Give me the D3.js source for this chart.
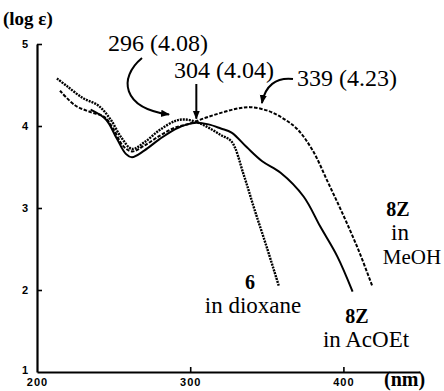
<!DOCTYPE html>
<html>
<head>
<meta charset="utf-8">
<script src="https://cdn.jsdelivr.net/npm/d3@7"></script>
<style>
  body { margin: 0; background: #fff; }
  svg { display: block; }
</style>
</head>
<body>
<svg id="chart" width="444" height="391"></svg>
<script>
'use strict';

// Spectra: [wavelength nm, log eps]
const dioxane6 = [
  [213, 4.58], [220, 4.48], [230, 4.34], [240, 4.25], [248, 4.08], [255, 3.86],
  [262, 3.72], [270, 3.80], [280, 3.95], [290, 4.06], [296, 4.08], [304, 4.05],
  [312, 3.98], [320, 3.89], [327, 3.81], [335, 3.40], [342, 2.98], [350, 2.52], [358, 2.04]
];
const meoh8Z = [
  [215, 4.43], [225, 4.25], [235, 4.17], [244, 4.11], [250, 3.96], [256, 3.76],
  [262, 3.69], [270, 3.76], [280, 3.88], [290, 3.98], [300, 4.03], [310, 4.10],
  [320, 4.16], [330, 4.21], [339, 4.23], [350, 4.19], [360, 4.10], [370, 3.96],
  [380, 3.70], [390, 3.31], [400, 2.91], [410, 2.48], [419, 2.04]
];
const acoet8Z = [
  [235, 4.20], [245, 4.08], [252, 3.85], [258, 3.66], [262, 3.62], [270, 3.70],
  [280, 3.84], [290, 3.96], [298, 4.02], [304, 4.04], [312, 4.02], [320, 3.97],
  [327, 3.92], [337, 3.74], [347, 3.57], [359, 3.43], [374, 3.14], [385, 2.77],
  [396, 2.41], [406, 1.98]
];

const peaks = [
  { nm: 296, v: 4.08 },
  { nm: 304, v: 4.04 },
  { nm: 339, v: 4.23 }
];

const yTicks = [1, 2, 3, 4, 5];
const xTicks = [200, 300, 400];

const SERIF = '"Liberation Serif", "DejaVu Serif", serif';
const SANS = '"Liberation Sans", "DejaVu Sans", sans-serif';

const svg = d3.select('#chart');

const x = d3.scaleLinear().domain([200, 450]).range([37, 420]);
const y = d3.scaleLinear().domain([1, 5]).range([372, 44]);

// Axes, ticks point inward
const yAxis = d3.axisLeft(y)
  .tickValues(yTicks)
  .tickFormat(d3.format('d'))
  .tickSizeInner(-5)
  .tickSizeOuter(0)
  .tickPadding(8);
const gy = svg.append('g').attr('transform', `translate(${x(200)},0)`).call(yAxis);

const xAxis = d3.axisBottom(x)
  .tickValues(xTicks)
  .tickFormat(d3.format('d'))
  .tickSizeInner(-5)
  .tickSizeOuter(0)
  .tickPadding(6);
const gx = svg.append('g').attr('transform', `translate(0,${y(1)})`).call(xAxis);

[gx, gy].forEach(g => {
  g.select('.domain').attr('stroke', '#000').attr('stroke-width', 2.2);
  g.selectAll('.tick line').attr('stroke', '#000').attr('stroke-width', 1.6);
  g.selectAll('.tick text')
    .attr('fill', '#000')
    .style('font-family', SANS)
    .style('font-weight', 'bold')
    .style('font-size', '11px')
    .style('letter-spacing', '1px');
});
// no tick mark on the corner
gx.selectAll('.tick').filter(d => d === 200).select('line').remove();
gy.selectAll('.tick').filter(d => d === 1).select('line').remove();
gy.selectAll('.tick').filter(d => d === 1).select('text').attr('dy', '0.1em');

svg.append('text')
  .attr('x', 3).attr('y', 25)
  .style('font-family', SERIF)
  .style('font-size', '19px').style('font-weight', 'bold')
  .text('(log ε)');
svg.append('text')
  .attr('x', 384).attr('y', 386)
  .style('font-family', SERIF)
  .style('font-size', '20px').style('font-weight', 'bold')
  .text('(nm)');

// Curves
const line = d3.line()
  .x(d => x(d[0]))
  .y(d => y(d[1]))
  .curve(d3.curveCatmullRom.alpha(0.5));

const series = [
  { data: dioxane6, dash: '2,1', width: 2.4 },
  { data: meoh8Z, dash: '3.5,1.6', width: 2.0 },
  { data: acoet8Z, dash: null, width: 2.0 }
];

svg.append('g').selectAll('path')
  .data(series)
  .join('path')
  .attr('d', d => line(d.data))
  .attr('fill', 'none')
  .attr('stroke', '#000')
  .attr('stroke-width', d => d.width)
  .attr('stroke-dasharray', d => d.dash);

// Arrowhead
svg.append('defs').append('marker')
  .attr('id', 'head')
  .attr('viewBox', '0 0 10 10')
  .attr('refX', 9).attr('refY', 5)
  .attr('markerWidth', 9).attr('markerHeight', 9)
  .attr('markerUnits', 'userSpaceOnUse')
  .attr('orient', 'auto')
  .append('path')
  .attr('d', 'M0,1 L10,5 L0,9 Z')
  .attr('fill', '#000');

// Peak annotations
const fmt = p => `${p.nm} (${p.v.toFixed(2)})`;
const labelPos = [
  { x: 108, y: 51 },
  { x: 174, y: 78 },
  { x: 297, y: 86 }
];
svg.append('g').selectAll('text')
  .data(peaks)
  .join('text')
  .attr('x', (d, i) => labelPos[i].x)
  .attr('y', (d, i) => labelPos[i].y)
  .style('font-family', SERIF)
  .style('font-size', '24px')
  .text(fmt);

const p0 = peaks[0], p1 = peaks[1], p2 = peaks[2];
const arrows = [
  `M142,58 C118,78 122,108 ${x(p0.nm) - 15},${y(p0.v) - 5}`,
  `M${x(p1.nm)},84 L${x(p1.nm)},${y(p1.v) - 4}`,
  `M293,79 C276,77 265,86 ${x(p2.nm) + 12},${y(p2.v) - 4}`
];
svg.append('g').selectAll('path')
  .data(arrows)
  .join('path')
  .attr('d', d => d)
  .attr('fill', 'none')
  .attr('stroke', '#000')
  .attr('stroke-width', 2)
  .attr('marker-end', 'url(#head)');

// Series labels
const labels = [
  { t: '6', x: 250, y: 289, bold: true },
  { t: 'in dioxane', x: 253, y: 313 },
  { t: '8Z', x: 357, y: 323, bold: true },
  { t: 'in AcOEt', x: 366, y: 347 },
  { t: '8Z', x: 398, y: 216, bold: true },
  { t: 'in', x: 400, y: 240 },
  { t: 'MeOH', x: 412, y: 264, size: 21 }
];
svg.append('g').selectAll('text')
  .data(labels)
  .join('text')
  .attr('x', d => d.x).attr('y', d => d.y)
  .attr('text-anchor', 'middle')
  .style('font-family', SERIF)
  .style('font-size', d => (d.size || (d.bold ? 20 : 23)) + 'px')
  .style('font-weight', d => d.bold ? 'bold' : 'normal')
  .text(d => d.t);
</script>
</body>
</html>
